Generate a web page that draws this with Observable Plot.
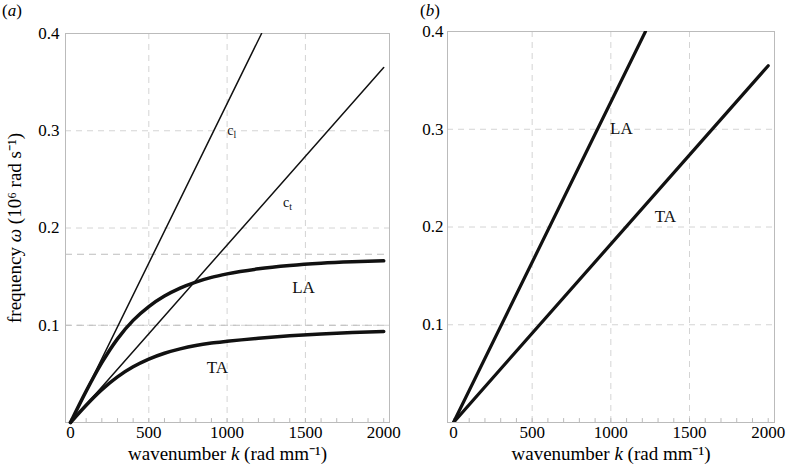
<!DOCTYPE html>
<html>
<head>
<meta charset="utf-8">
<script src="https://cdn.jsdelivr.net/npm/d3@7"></script>
<script src="https://cdn.jsdelivr.net/npm/@observablehq/plot@0.6"></script>
<style>
  html, body { margin: 0; padding: 0; background: #fff; }
  #wrap { position: relative; width: 786px; height: 468px; font-family: "Liberation Serif", serif; background: #fff; }
  .panel { position: absolute; top: 0; }
  .plabel { position: absolute; top: 1px; font-size: 17px; font-family: "Liberation Serif", serif; z-index: 2; }
  svg text { font-family: "Liberation Serif", serif; }
</style>
</head>
<body>
<div id="wrap">
  <div id="pb" class="panel" style="left:393px;"></div>
  <div id="pa" class="panel" style="left:0px;"></div>
  <div class="plabel" style="left:2px;">(<i>a</i>)</div>
  <div class="plabel" style="left:420px;">(<i>b</i>)</div>
</div>
<script>
// wavenumber samples (rad/mm) for the dispersion curves
const kSamples = [0, 100, 200, 300, 400, 500, 600, 700, 800, 900, 1000, 1200, 1400, 1600, 1800, 2000];
// frequency (10^6 rad/s) of the longitudinal acoustic (LA) branch, panel a
const laOmega = [0, 0.0322, 0.0615, 0.0860, 0.1050, 0.1192, 0.1300, 0.1382, 0.1444, 0.1492, 0.1528, 0.1580, 0.1614, 0.1637, 0.1652, 0.1662];
// frequency of the transverse acoustic (TA) branch, panel a
const taOmega = [0, 0.0178, 0.0338, 0.0470, 0.0573, 0.0652, 0.0712, 0.0757, 0.0792, 0.0817, 0.0835, 0.0866, 0.0891, 0.0910, 0.0925, 0.0937];
// straight sound-speed lines (endpoints): c_l and c_t
const cLineK = [0, 1220];
const cLineOmega = [0, 0.4];
const ctLineK = [0, 2000];
const ctLineOmega = [0, 0.365];
// horizontal asymptote levels in panel a
const asymptotes = [0.173, 0.1];
// ticks
const xTicks = [0, 500, 1000, 1500, 2000];
const xGrid = [500, 1000, 1500];
const yTicks = [0.1, 0.2, 0.3, 0.4];
const yGrid = [0.1, 0.2, 0.3];
const minorK = d3.range(0, 2001, 100);
// labels
const labelsA = [
  {k: 1030, w: 0.300, t: "cl"},
  {k: 1386, w: 0.226, t: "ct"},
  {k: 1488, w: 0.139, t: "LA"},
  {k: 938, w: 0.057, t: "TA"}
];
const labelsB = [
  {k: 1067, w: 0.301, t: "LA"},
  {k: 1347, w: 0.211, t: "TA"}
];

const curveRows = [];
kSamples.forEach((k, i) => {
  curveRows.push({k, w: laOmega[i], m: "LA"});
  curveRows.push({k, w: taOmega[i], m: "TA"});
});
const straightRows = [
  ...cLineK.map((k, i) => ({k, w: cLineOmega[i], m: "cl"})),
  ...ctLineK.map((k, i) => ({k, w: ctLineOmega[i], m: "ct"}))
];
const FONT = "Liberation Serif";

function commonMarks() {
  return [
    Plot.gridX(xGrid, {stroke: "#d4d4d4", strokeOpacity: 1, strokeDasharray: "6,5"}),
    Plot.gridY(yGrid, {stroke: "#d4d4d4", strokeOpacity: 1, strokeDasharray: "6,5"}),
    Plot.ruleX(minorK, {y1: 0, y2: 0.004, stroke: "#bbb"}),
    Plot.frame({stroke: "#bbb"}),
    Plot.axisX(xTicks, {tickSize: 0, tickPadding: 3, tickFormat: d3.format("d"), fontSize: 17, fontFamily: FONT,
      label: "wavenumber k (rad mm⁻¹)", labelAnchor: "center", labelArrow: "none", labelOffset: 37}),
  ];
}

function fixLabels(svg) {
  const xl = svg.querySelector('[aria-label="x-axis label"] text');
  if (xl) {
    xl.innerHTML = 'wavenumber <tspan font-style="italic">k</tspan> (rad mm⁻¹)';
    xl.setAttribute("font-size", "19");
  }
  const yl = svg.querySelector('[aria-label="y-axis label"] text');
  if (yl) {
    yl.innerHTML = 'frequency <tspan font-style="italic">ω</tspan> (10⁶ rad s⁻¹)';
    yl.setAttribute("font-size", "19");
  }
  svg.querySelectorAll('text').forEach(t => {
    if (t.textContent === "cl") t.innerHTML = 'c<tspan font-size="70%" dy="0.3em">l</tspan>';
    if (t.textContent === "ct") t.innerHTML = 'c<tspan font-size="70%" dy="0.3em">t</tspan>';
  });
}

const style = {fontFamily: FONT, fontSize: "17px", color: "black", background: "transparent", overflow: "visible"};

const pa = Plot.plot({
  width: 393, height: 468,
  marginLeft: 65, marginRight: 4, marginTop: 33, marginBottom: 46,
  style,
  x: {domain: [-32, 2037]},
  y: {domain: [0, 0.4]},
  marks: [
    ...commonMarks(),
    Plot.ruleY(asymptotes, {stroke: "#bdbdbd", strokeDasharray: "7,5"}),
    Plot.axisY(yTicks, {tickSize: 0, tickPadding: 6, tickFormat: d3.format(".1f"), fontSize: 17, fontFamily: FONT,
      label: "frequency ω (10⁶ rad s⁻¹)", labelAnchor: "center", labelArrow: "none", labelOffset: 58}),
    Plot.line(straightRows, {x: "k", y: "w", z: "m", stroke: "#111", strokeWidth: 1.5, clip: true}),
    Plot.line(curveRows, {x: "k", y: "w", z: "m", stroke: "#111", strokeWidth: 3.5, curve: "monotone-x"}),
    Plot.text(labelsA.filter(d => d.t[0] === "c"), {x: "k", y: "w", text: "t", fontSize: 14, fontFamily: FONT, fill: "#111"}),
    Plot.text(labelsA.filter(d => d.t[0] !== "c"), {x: "k", y: "w", text: "t", fontSize: 17, fontFamily: FONT, fill: "#111"})
  ]
});
fixLabels(pa);
document.getElementById("pa").appendChild(pa);

const pb = Plot.plot({
  width: 393, height: 468,
  marginLeft: 54, marginRight: 12, marginTop: 31, marginBottom: 46,
  style,
  x: {domain: [-38, 2040]},
  y: {domain: [0, 0.4]},
  marks: [
    ...commonMarks(),
    Plot.axisY(yTicks, {tickSize: 0, tickPadding: 4, tickFormat: d3.format(".1f"), fontSize: 17, fontFamily: FONT, label: null}),
    Plot.line(straightRows, {x: "k", y: "w", z: "m", stroke: "#111", strokeWidth: 3.2, clip: true}),
    Plot.text(labelsB, {x: "k", y: "w", text: "t", fontSize: 17, fontFamily: FONT, fill: "#111"})
  ]
});
fixLabels(pb);
document.getElementById("pb").appendChild(pb);
</script>
</body>
</html>
